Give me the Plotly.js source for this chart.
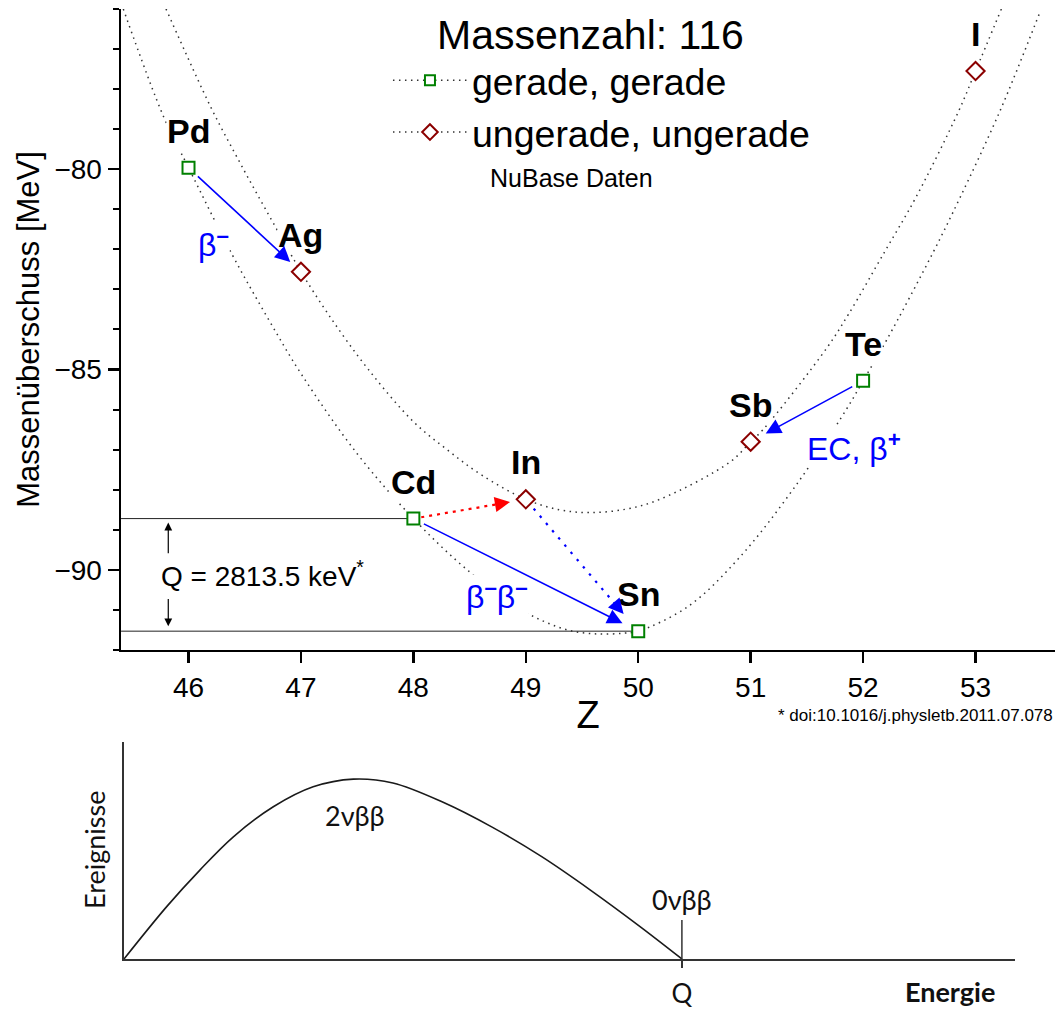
<!DOCTYPE html>
<html>
<head>
<meta charset="utf-8">
<script src="https://cdn.plot.ly/plotly-3.0.1.min.js"></script>
<style>html,body{margin:0;padding:0;background:#fff;}#chart{width:1060px;height:1009px;}</style>
</head>
<body>
<div id="chart"></div>
<script>
// ---------- data ----------
const evenZ = [46, 48, 50, 52];
const evenE = [-79.96, -88.72, -91.53, -85.28];
const evenNames = ['Pd', 'Cd', 'Sn', 'Te'];

const oddZ = [47, 49, 51, 53];
const oddE = [-82.56, -88.24, -86.80, -77.55];
const oddNames = ['Ag', 'In', 'Sb', 'I'];

// dotted guide curves
const fitEvenZ = [45.42, 45.78, 46.0, 46.39, 46.70, 47.0, 47.5, 48.0, 48.5, 48.97, 49.19, 49.40, 49.64, 49.87, 50.0, 50.45, 50.91, 51.4, 51.85, 52.0, 52.21, 52.62, 52.86, 53.22, 53.57];
const fitEvenE = [-76.0, -78.7, -79.96, -82.14, -83.69, -85.1, -87.1, -88.72, -90.05, -91.01, -91.32, -91.52, -91.60, -91.58, -91.53, -90.9, -89.66, -87.9, -86.0, -85.28, -84.26, -82.09, -80.72, -78.53, -76.1];
const fitOddZ = [45.80, 46.20, 46.46, 46.61, 46.93, 47.0, 47.26, 47.6, 48.0, 48.3, 48.6, 49.0, 49.3, 49.57, 49.9, 50.2, 50.82, 51.0, 51.11, 51.68, 51.87, 52.20, 52.47, 52.85, 53.0, 53.23];
const fitOddE = [-76.0, -78.46, -79.85, -80.62, -82.22, -82.56, -83.69, -85.0, -86.3, -87.0, -87.62, -88.24, -88.50, -88.57, -88.48, -88.23, -87.30, -86.80, -86.50, -84.45, -83.62, -82.02, -80.70, -78.55, -77.55, -76.0];

const massNumber = 116;
const qValueKeV = 2813.5;

// spectrum (lower panel), energy in units of Q
const specX = [0, 0.0765, 0.136, 0.196, 0.2676, 0.339, 0.411, 0.482, 0.571, 0.659, 0.748, 0.836, 0.925, 1.0];
const specY = [0, 0.291, 0.494, 0.679, 0.846, 0.957, 1.0, 0.978, 0.872, 0.734, 0.570, 0.383, 0.180, 0];
const qPos = 1.0;

// ---------- helpers ----------
const FONT = 'Liberation Sans, Arial, sans-serif';
const CFONT = 'Lato, Open Sans, sans-serif';
const GREEN = '#008000', DRED = '#8B0000', BLUE = '#0000FF', RED = '#FF0000';
const CURVE_DASH = '1.5px,4.5px';
function pt(names, Zs, Es, n) { const i = names.indexOf(n); return [Zs[i], Es[i]]; }
function P(n) { return evenNames.includes(n) ? pt(evenNames, evenZ, evenE, n) : pt(oddNames, oddZ, oddE, n); }
function lerp(a, b, t) { return [a[0] + (b[0] - a[0]) * t, a[1] + (b[1] - a[1]) * t]; }

const traces = [];
// guide curves
traces.push({x: fitEvenZ, y: fitEvenE, mode: 'lines', line: {color: '#333', width: 1.5, dash: CURVE_DASH, shape: 'spline'}, showlegend: false, hoverinfo: 'skip'});
traces.push({x: fitOddZ, y: fitOddE, mode: 'lines', line: {color: '#333', width: 1.5, dash: CURVE_DASH, shape: 'spline'}, showlegend: false, hoverinfo: 'skip'});

// Q reference lines
const xMin = 45.40;
traces.push({x: [xMin, evenZ[1]], y: [evenE[1], evenE[1]], mode: 'lines', line: {color: '#222', width: 1}, showlegend: false, hoverinfo: 'skip'});
traces.push({x: [xMin, evenZ[2]], y: [evenE[2], evenE[2]], mode: 'lines', line: {color: '#222', width: 1}, showlegend: false, hoverinfo: 'skip'});

// dotted decay arrows (line part)
const dottedArrows = [
  {from: 'Cd', to: 'In', t0: 0.07, t1: 0.86, color: RED, dash: '3px,5px'},
  {from: 'In', to: 'Sn', t0: 0.07, t1: 0.87, color: BLUE, dash: '2.5px,7px'}
];
dottedArrows.forEach(a => {
  const s = lerp(P(a.from), P(a.to), a.t0), e = lerp(P(a.from), P(a.to), a.t1 - 0.08);
  traces.push({x: [s[0], e[0]], y: [s[1], e[1]], mode: 'lines', line: {color: a.color, width: 2.2, dash: a.dash}, showlegend: false, hoverinfo: 'skip'});
});

// data markers
traces.push({x: evenZ, y: evenE, mode: 'markers', marker: {symbol: 'square', size: 12, color: 'white', line: {color: GREEN, width: 2}}, showlegend: false, cliponaxis: false});
traces.push({x: oddZ, y: oddE, mode: 'markers', marker: {symbol: 'diamond', size: 14, color: 'white', line: {color: DRED, width: 2}}, showlegend: false, cliponaxis: false});

// legend-only traces
traces.push({x: [null], y: [null], name: 'gerade, gerade', mode: 'lines+markers', line: {color: '#333', width: 1.5, dash: CURVE_DASH}, marker: {symbol: 'square', size: 10, color: 'white', line: {color: GREEN, width: 2}}});
traces.push({x: [null], y: [null], name: 'ungerade, ungerade', mode: 'lines+markers', line: {color: '#333', width: 1.5, dash: CURVE_DASH}, marker: {symbol: 'diamond', size: 12, color: 'white', line: {color: DRED, width: 2}}});

// lower panel
traces.push({x: specX, y: specY, xaxis: 'x2', yaxis: 'y2', mode: 'lines', line: {color: '#1a1a1a', width: 1.6, shape: 'spline', smoothing: 1.0}, showlegend: false, hoverinfo: 'skip'});
traces.push({x: [qPos, qPos], y: [0, 0.217], xaxis: 'x2', yaxis: 'y2', mode: 'lines', line: {color: '#333', width: 1.5}, showlegend: false, hoverinfo: 'skip'});

// ---------- annotations ----------
const ann = [];
evenNames.concat(oddNames).forEach(n => {
  const p = P(n);
  ann.push({x: p[0], y: p[1], xref: 'x', yref: 'y', text: '<b>' + n + '</b>', showarrow: false, yshift: 37,
    xanchor: 'center', yanchor: 'middle',
    font: {family: FONT, size: 34, color: '#000'}, bgcolor: 'white', borderpad: 0});
});
const blueFont = {family: FONT, size: 32, color: BLUE};
ann.push({x: 46.22, y: -81.85, xref: 'x', yref: 'y', xanchor: 'center', yanchor: 'middle', text: 'β<sup><b>–</b></sup>', showarrow: false, font: blueFont, bgcolor: 'white', borderpad: 0});
ann.push({x: 48.74, y: -90.63, xref: 'x', yref: 'y', xanchor: 'center', yanchor: 'middle', text: 'β<sup><b>–</b></sup>β<sup><b>–</b></sup>', showarrow: false, font: blueFont, bgcolor: 'white', borderpad: 0});
ann.push({x: 51.92, y: -86.93, xref: 'x', yref: 'y', xanchor: 'center', yanchor: 'middle', text: 'EC, β<sup><b>+</b></sup>', showarrow: false, font: blueFont, bgcolor: 'white', borderpad: 0});
ann.push({x: 46.658, y: -90.11, xref: 'x', yref: 'y', xanchor: 'center', yanchor: 'middle', text: 'Q = ' + qValueKeV.toFixed(1) + ' keV<sup>*</sup>', showarrow: false, font: {family: FONT, size: 28, color: '#000'}});

// solid arrows
const solidArrows = [
  {from: 'Pd', to: 'Ag', t0: 0.07, t1: 0.905},
  {from: 'Cd', to: 'Sn', t0: 0.04, t1: 0.93},
  {from: 'Te', to: 'Sb', t0: 0.083, t1: 0.866}
];
const HEAD = {arrowhead: 2, arrowsize: 1.9, arrowwidth: 1.6, standoff: 0, startstandoff: 0};
solidArrows.forEach(a => {
  const s = lerp(P(a.from), P(a.to), a.t0), e = lerp(P(a.from), P(a.to), a.t1);
  ann.push(Object.assign({x: e[0], y: e[1], ax: s[0], ay: s[1], xref: 'x', yref: 'y', axref: 'x', ayref: 'y', text: '', showarrow: true, arrowcolor: BLUE}, HEAD));
});
// dotted arrow heads
dottedArrows.forEach(a => {
  const s = lerp(P(a.from), P(a.to), a.t1 - 0.1), e = lerp(P(a.from), P(a.to), a.t1);
  ann.push(Object.assign({x: e[0], y: e[1], ax: s[0], ay: s[1], xref: 'x', yref: 'y', axref: 'x', ayref: 'y', text: '', showarrow: true, arrowcolor: a.color}, HEAD));
});
// Q double arrows
const qx = 45.82;
ann.push({x: qx, y: evenE[1] - 0.10, ax: qx, ay: evenE[1] - 0.90, xref: 'x', yref: 'y', axref: 'x', ayref: 'y', text: '', showarrow: true, arrowhead: 2, arrowsize: 1.3, arrowwidth: 1.2, arrowcolor: '#000', standoff: 0});
ann.push({x: qx, y: evenE[2] + 0.12, ax: qx, ay: evenE[2] + 0.84, xref: 'x', yref: 'y', axref: 'x', ayref: 'y', text: '', showarrow: true, arrowhead: 2, arrowsize: 1.3, arrowwidth: 1.2, arrowcolor: '#000', standoff: 0});

// titles / notes
ann.push({x: 0.5575, y: 0.9653, xref: 'paper', yref: 'paper', xanchor: 'center', yanchor: 'middle', text: 'Massenzahl: ' + massNumber, showarrow: false, font: {family: FONT, size: 41, color: '#000'}});
ann.push({x: 0.5396, y: 0.8236, xref: 'paper', yref: 'paper', xanchor: 'center', yanchor: 'middle', text: 'NuBase Daten', showarrow: false, font: {family: FONT, size: 25, color: '#000'}});
ann.push({x: 0.9953, y: 0.2904, xref: 'paper', yref: 'paper', xanchor: 'right', yanchor: 'middle', text: '* doi:10.1016/j.physletb.2011.07.078', showarrow: false, font: {family: FONT, size: 17, color: '#000'}});

// lower panel labels
const cFont = {family: CFONT, size: 27, color: '#111'};
ann.push({x: 0.414, y: 0.80, xref: 'x2', yref: 'y2', xanchor: 'center', yanchor: 'middle', text: '2νββ', showarrow: false, font: cFont});
ann.push({x: qPos, y: 0.328, xref: 'x2', yref: 'y2', xanchor: 'center', yanchor: 'middle', text: '0νββ', showarrow: false, font: cFont});
ann.push({x: 0.8962, y: 0.0178, xref: 'paper', yref: 'paper', xanchor: 'center', yanchor: 'middle', text: '<b>Energie</b>', showarrow: false, font: cFont});
ann.push({x: 0.0896, y: 0.1576, xref: 'paper', yref: 'paper', xanchor: 'center', yanchor: 'middle', text: 'Ereignisse', textangle: -90, showarrow: false, font: cFont});

const layout = {
  width: 1060, height: 1009,
  margin: {l: 0, r: 0, t: 0, b: 0, pad: 0},
  paper_bgcolor: 'white', plot_bgcolor: 'rgba(0,0,0,0)',
  showlegend: true,
  legend: {x: 0.366, xanchor: 'left', y: 0.951, yanchor: 'top', bgcolor: 'rgba(0,0,0,0)',
    font: {family: FONT, size: 37.5, color: '#000'}, itemwidth: 74, tracegroupgap: 0},
  xaxis: {domain: [0.1142, 0.9953], range: [45.40, 53.707], anchor: 'y',
    showline: true, linecolor: '#000', linewidth: 2.5, mirror: false,
    ticks: 'outside', ticklen: 11, tickwidth: 2.5, tickcolor: '#000', dtick: 1, tick0: 0,
    showgrid: false, zeroline: false, tickfont: {family: FONT, size: 28, color: '#000'},
    title: {text: 'Z', font: {family: FONT, size: 38, color: '#000'}, standoff: 0}},
  yaxis: {domain: [0.3558, 0.9911], range: [-92, -76], anchor: 'x',
    showline: true, linecolor: '#000', linewidth: 2.5,
    ticks: 'outside', ticklen: 11, tickwidth: 2.5, tickcolor: '#000', dtick: 5, tick0: -80,
    minor: {dtick: 1, ticks: 'outside', ticklen: 6, tickwidth: 2, tickcolor: '#000', showgrid: false},
    showgrid: false, zeroline: false, tickfont: {family: FONT, size: 28, color: '#000'},
    title: {text: 'Massenüberschuss [MeV]', font: {family: FONT, size: 31, color: '#000'}, standoff: 6}},
  xaxis2: {domain: [0.117, 0.9575], range: [0, 1.597], anchor: 'y2',
    showline: true, linecolor: '#333', linewidth: 2,
    tickvals: [qPos], ticktext: ['Q'], ticks: 'outside', ticklen: 7, tickwidth: 1.5, tickcolor: '#333',
    ticklabelstandoff: 4,
    showgrid: false, zeroline: false, tickfont: {family: CFONT, size: 26, color: '#111'}},
  yaxis2: {domain: [0.0496, 0.2646], range: [0, 1.206], anchor: 'x2',
    showline: true, linecolor: '#333', linewidth: 2, ticks: '', showticklabels: false,
    showgrid: false, zeroline: false},
  annotations: ann
};

Plotly.newPlot('chart', traces, layout, {staticPlot: true, displayModeBar: false});
</script>
</body>
</html>
